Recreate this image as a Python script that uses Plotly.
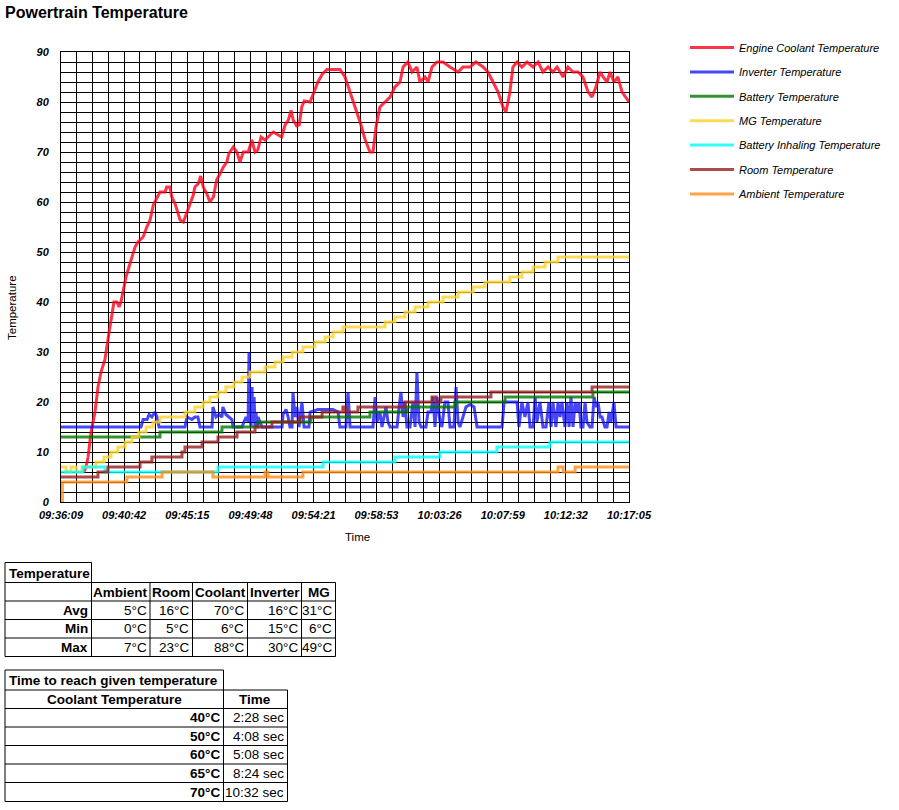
import plotly.graph_objects as go

W, H = 899, 810
FONT = "Liberation Sans, Arial, Helvetica, sans-serif"

START = "09:36:09"
x_tick_labels = ["09:36:09", "09:40:42", "09:45:15", "09:49:48", "09:54:21",
                 "09:58:53", "10:03:26", "10:07:59", "10:12:32", "10:17:05"]

# (seconds since 09:36:09, temperature)
coolant = [(99, 6), (108, 7), (117, 9), (130, 14), (147, 18), (160, 23), (173, 26), (190, 28.5),
           (203, 32.5), (212, 35), (221, 38), (229, 40), (242, 40), (251, 39), (259, 40), (268, 42),
           (281, 45), (294, 47), (307, 49), (320, 51), (333, 52), (346, 52.5), (355, 53), (371, 55),
           (385, 56.4), (399, 59.4), (421, 61.4), (428, 62), (450, 62), (457, 63), (471, 63),
           (479, 61), (493, 59.7), (515, 56.4), (529, 56), (544, 58), (558, 59.7), (572, 61.4),
           (579, 63), (594, 63.7), (604, 65.2), (615, 63), (630, 61.7), (644, 60), (659, 61),
           (673, 64.4), (688, 65.7), (702, 67), (717, 68), (726, 69.7), (745, 71), (760, 70),
           (774, 68), (788, 70), (810, 70), (825, 72.4), (839, 70), (851, 70.4), (865, 73),
           (882, 72.4), (904, 73.4), (918, 74), (954, 73), (969, 75.4), (983, 76.4), (995, 78.3),
           (1004, 76.4), (1019, 75.2), (1030, 75.4), (1041, 79), (1052, 80.2), (1077, 80),
           (1094, 82), (1111, 84), (1129, 85.5), (1150, 86.5), (1176, 86.5), (1206, 86.5),
           (1228, 85), (1250, 82), (1271, 79), (1293, 76), (1315, 72.5), (1336, 70), (1349, 70),
           (1362, 75), (1379, 79), (1401, 80), (1423, 81), (1444, 83), (1466, 84), (1479, 87),
           (1500, 88), (1518, 86), (1539, 87), (1552, 84), (1574, 85), (1587, 84), (1604, 87),
           (1626, 88), (1652, 88), (1682, 87), (1717, 86), (1738, 87), (1769, 87), (1794, 88),
           (1825, 87), (1846, 86), (1868, 84), (1890, 82), (1911, 79), (1924, 78), (1941, 82),
           (1954, 87), (1972, 88), (1993, 87), (2015, 88), (2041, 87), (2063, 88), (2084, 86),
           (2106, 87), (2127, 86), (2145, 87), (2171, 85), (2192, 87), (2214, 86), (2236, 86),
           (2257, 85), (2279, 82), (2296, 81), (2313, 83), (2331, 86), (2344, 85), (2361, 84),
           (2374, 86), (2391, 84), (2408, 85), (2426, 82), (2456, 80)]

inverter = [(0, 15), (346, 15), (355, 16.5), (372, 16.5), (381, 17.5), (393, 17), (406, 18),
            (415, 17), (424, 15), (536, 15), (545, 17), (566, 16.5), (579, 17), (592, 17),
            (601, 15), (653, 15), (657, 19), (670, 17), (683, 17.5), (696, 17), (700, 19),
            (713, 17.5), (726, 17), (739, 16.5), (744, 15), (783, 15), (791, 16), (800, 17),
            (809, 16), (813, 30), (817, 17), (822, 15), (826, 23), (830, 16), (835, 21),
            (839, 15), (843, 18), (848, 15), (852, 17), (860, 16), (869, 15), (956, 15),
            (960, 17.5), (973, 18.5), (982, 17), (990, 15), (999, 15), (1003, 22), (1012, 17),
            (1020, 19), (1029, 15), (1042, 20), (1051, 15), (1072, 15), (1077, 18), (1111, 18.5),
            (1146, 18.5), (1176, 18.5), (1198, 18), (1206, 15), (1232, 15), (1241, 22),
            (1250, 15), (1349, 15), (1358, 21), (1366, 16), (1379, 18), (1388, 15), (1405, 19),
            (1414, 16), (1423, 15), (1453, 15), (1462, 19), (1470, 22), (1479, 17), (1487, 20),
            (1496, 15), (1509, 15), (1522, 20), (1531, 15), (1539, 26), (1548, 16), (1557, 15),
            (1578, 15), (1587, 18), (1600, 18), (1609, 21), (1617, 15), (1626, 21), (1639, 16),
            (1647, 15), (1660, 20), (1673, 20), (1682, 15), (1699, 15), (1708, 23), (1717, 16),
            (1725, 15), (1751, 19), (1769, 19.5), (1786, 19), (1799, 15), (1907, 15),
            (1916, 20), (1941, 20), (1972, 20), (1980, 15), (1993, 20), (2006, 17), (2019, 20),
            (2028, 15), (2041, 15), (2050, 21), (2058, 16), (2071, 20), (2084, 15), (2097, 15),
            (2110, 20), (2119, 15), (2127, 20), (2140, 15), (2149, 20), (2158, 17), (2166, 20),
            (2179, 15), (2188, 20), (2197, 15), (2205, 21), (2214, 15), (2223, 20), (2231, 18),
            (2240, 20), (2248, 15), (2257, 15), (2266, 20), (2274, 16), (2287, 15), (2296, 15),
            (2305, 21), (2313, 19), (2322, 20), (2331, 17), (2339, 17), (2352, 15), (2361, 15),
            (2370, 18), (2378, 16), (2391, 20), (2400, 15), (2456, 15)]

battery = [(0, 13), (428, 14), (696, 15), (852, 16), (1081, 17), (1336, 18), (1496, 19),
           (1704, 20), (1920, 21), (2300, 22), (2456, 22)]

mg = [(0, 7), (22, 6), (43, 7), (65, 6), (91, 7), (151, 8), (186, 9), (216, 10), (246, 11),
      (277, 12), (307, 13), (337, 14), (368, 15), (398, 16), (428, 17), (536, 18), (579, 19),
      (614, 20), (644, 21), (679, 22), (713, 23), (748, 24), (783, 25), (817, 26), (882, 27),
      (925, 28), (960, 29), (999, 30), (1046, 31), (1098, 32), (1142, 33), (1176, 34),
      (1219, 35), (1401, 36), (1444, 37), (1487, 38), (1531, 39), (1587, 40), (1652, 41),
      (1717, 42), (1782, 43), (1833, 44), (1941, 45), (1993, 46), (2041, 47), (2093, 48),
      (2149, 49), (2456, 49)]

inhaling = [(0, 6), (95, 7), (190, 6), (679, 7), (1133, 8), (1444, 9), (1639, 10), (1885, 11),
            (2114, 12), (2456, 12)]

room = [(0, 5), (160, 6), (203, 7), (342, 8), (393, 9), (523, 10), (536, 11), (610, 12),
        (679, 13), (761, 14), (839, 15), (912, 16), (1033, 17), (1129, 18), (1219, 19),
        (1232, 18), (1284, 19), (1487, 20), (1604, 21), (1622, 20), (1643, 21), (1859, 22),
        (2296, 23), (2456, 23)]

ambient = [(0, 0), (6, 4), (285, 5), (437, 6), (657, 5), (882, 6), (895, 5), (1046, 6),
           (2149, 7), (2171, 6), (2223, 7), (2456, 7)]

series = [
    ("Engine Coolant Temperature", coolant, "rgba(255,0,25,0.8)", "linear"),
    ("Inverter Temperature", inverter, "rgba(10,10,245,0.75)", "linear"),
    ("Battery Temperature", battery, "rgba(0,120,0,0.8)", "hv"),
    ("MG Temperature", mg, "rgba(255,210,40,0.8)", "hv"),
    ("Battery Inhaling Temperature", inhaling, "rgba(0,255,255,0.8)", "hv"),
    ("Room Temperature", room, "rgba(150,30,30,0.8)", "hv"),
    ("Ambient Temperature", ambient, "rgba(255,140,20,0.8)", "hv"),
]

# Tables
stat_cols = ["Ambient", "Room", "Coolant", "Inverter", "MG"]
stat_rows = ["Avg", "Min", "Max"]
stat_avg = [5, 16, 70, 16, 31]
stat_min = [0, 5, 6, 15, 6]
stat_max = [7, 23, 88, 30, 49]
reach_temps = [40, 50, 60, 65, 70]
reach_times = ["2:28", "4:08", "5:08", "8:24", "10:32"]


def secs(s):
    h, m, sc = map(int, s.split(":"))
    return h * 3600 + m * 60 + sc


tickvals = [secs(s) - secs(START) for s in x_tick_labels]
x_end = tickvals[-1]

fig = go.Figure()
for i, (name, pts, color, shape) in enumerate(series):
    fig.add_trace(go.Scatter(
        x=[p[0] for p in pts], y=[p[1] for p in pts], mode="lines", name=name,
        line=dict(color=color, width=3, shape=shape), legendgroup=str(i),
        hoverinfo="skip"))


def px(x):
    return x / W


def py(y):
    return 1 - y / H


shapes = []


def hline(x0, x1, y):
    shapes.append(dict(type="line", xref="paper", yref="paper", x0=px(x0), x1=px(x1),
                       y0=py(y), y1=py(y), line=dict(color="black", width=1)))


def vline(x, y0, y1):
    shapes.append(dict(type="line", xref="paper", yref="paper", x0=px(x), x1=px(x),
                       y0=py(y0), y1=py(y1), line=dict(color="black", width=1)))


annotations = []


def text(x, y, s, anchor="left", bold=False, size=13.5):
    annotations.append(dict(xref="paper", yref="paper", x=px(x), y=py(y), text=s,
                            showarrow=False, xanchor=anchor, yanchor="middle",
                            font=dict(family=FONT, size=size, color="black",
                                      weight="bold" if bold else "normal")))


# table 1
t1_cols = [5, 91.5, 150, 192.5, 247.5, 301.5, 335.5]
t1_rows = [582.5, 601, 619.5, 638, 656.5]
cap1_top = 562.5
hline(5, 91.5, cap1_top)
vline(5, cap1_top, t1_rows[-1])
vline(91.5, cap1_top, t1_rows[0])
for y in t1_rows:
    hline(5, t1_cols[-1], y)
for x in t1_cols[1:]:
    vline(x, t1_rows[0], t1_rows[-1])
text(6.5, 573, "Temperature", bold=True)
for j, c in enumerate(stat_cols):
    text((t1_cols[j + 1] + t1_cols[j + 2]) / 2, 592, c, anchor="center", bold=True)
for i, (rname, vals) in enumerate(zip(stat_rows, [stat_avg, stat_min, stat_max])):
    yc = (t1_rows[i + 1] + t1_rows[i + 2]) / 2
    text(t1_cols[1] - 1.5, yc, rname, anchor="right", bold=True)
    for j, v in enumerate(vals):
        text(t1_cols[j + 2] - 1.5, yc, f"{v}°C", anchor="right")

# table 2
t2_cols = [5, 223.5, 287.5]
t2_rows = [690, 708.5, 727, 745.5, 764, 782.5, 801.5]
cap2_top = 670
hline(5, 223.5, cap2_top)
vline(5, cap2_top, t2_rows[-1])
vline(223.5, cap2_top, t2_rows[0])
for y in t2_rows:
    hline(5, t2_cols[-1], y)
for x in t2_cols[1:]:
    vline(x, t2_rows[0], t2_rows[-1])
text(6.5, 680.5, "Time to reach given temperature", bold=True)
text((t2_cols[0] + t2_cols[1]) / 2, 699.5, "Coolant Temperature", anchor="center", bold=True)
text((t2_cols[1] + t2_cols[2]) / 2, 699.5, "Time", anchor="center", bold=True)
for i, (tv, tt) in enumerate(zip(reach_temps, reach_times)):
    yc = (t2_rows[i + 1] + t2_rows[i + 2]) / 2
    text(t2_cols[1] - 1.5, yc, f"{tv}°C", anchor="right", bold=True)
    text(t2_cols[2] - 1.5, yc, f"{tt} sec", anchor="right")

# axis titles
annotations.append(dict(xref="paper", yref="paper", x=px(12), y=py(308), text="Temperature",
                        textangle=-90, showarrow=False, xanchor="center", yanchor="middle",
                        font=dict(family=FONT, size=11.5, color="black")))
annotations.append(dict(xref="paper", yref="paper", x=px(357.5), y=py(537), text="Time",
                        showarrow=False, xanchor="center", yanchor="middle",
                        font=dict(family=FONT, size=11.5, color="black")))

tickfont = dict(family=FONT, size=11, color="black", weight="bold", style="italic")

fig.update_layout(
    width=W, height=H,
    margin=dict(l=0, r=0, t=0, b=0, autoexpand=False),
    paper_bgcolor="white", plot_bgcolor="white",
    font=dict(family=FONT, color="black"),
    title=dict(text="<b>Powertrain Temperature</b>", x=px(5), xanchor="left",
               y=py(12), yanchor="middle", font=dict(family=FONT, size=16, color="black")),
    showlegend=True,
    legend=dict(x=px(685), y=py(33), xanchor="left", yanchor="top",
                font=dict(family=FONT, size=11, color="black", style="italic"),
                tracegroupgap=5.4, bgcolor="rgba(0,0,0,0)", itemwidth=44),
    xaxis=dict(domain=[px(61), px(629)], range=[0, x_end], tickmode="array",
               tickvals=tickvals, ticktext=x_tick_labels, showgrid=True, gridcolor="black",
               gridwidth=1, zeroline=False, showline=True, linecolor="black", linewidth=1,
               mirror=True, ticks="", tickfont=tickfont, ticklabelstandoff=3,
               automargin=False,
               minor=dict(tickmode="linear", tick0=0, dtick=x_end / 36, showgrid=True,
                          gridcolor="black", gridwidth=1)),
    yaxis=dict(domain=[py(502), py(52)], range=[0, 90], tickmode="linear", tick0=0, dtick=10,
               showgrid=True, gridcolor="black", gridwidth=1, zeroline=False, showline=True,
               linecolor="black", linewidth=1, mirror=True, ticks="", tickfont=tickfont,
               ticklabelstandoff=9, automargin=False,
               minor=dict(tickmode="linear", tick0=0, dtick=2, showgrid=True,
                          gridcolor="black", gridwidth=1)),
    shapes=shapes,
    annotations=annotations,
)

fig.write_html("out.html", config={"displayModeBar": False},
               post_script="document.body.style.margin='0px';document.body.style.padding='0px';")
